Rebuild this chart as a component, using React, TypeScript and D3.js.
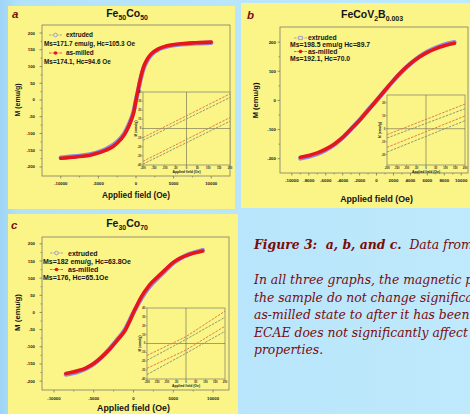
import React from "react";
import * as d3 from "d3";

// main loops: applied field (Oe) and magnetisation (emu/g)
const fieldA = [-10000, -8000, -6000, -4000, -3000, -2000, -1500, -1000, -600, -300, 0, 300, 600, 1000, 1500, 2000, 3000, 4000, 6000, 8000, 10000];
const milledA = [-174, -170, -164, -150, -138, -117, -102, -80, -58, -36, 0, 33, 65, 98, 122, 137, 153, 161, 168, 171, 173];
const extrudedA = [-172, -168, -162, -147, -134, -113, -98, -76, -54, -33, 0, 30, 61, 94, 118, 134, 151, 159, 166, 169, 171];

const fieldB = [-9000, -8000, -7000, -6000, -5000, -4000, -3000, -2000, -1000, 0, 1000, 2000, 3000, 4000, 5000, 6000, 7000, 8000, 9200];
const milledB = [-195, -189, -180, -167, -150, -127, -98, -68, -34, 0, 35, 69, 100, 126, 148, 165, 178, 188, 196];
const extrudedB = [-199, -193, -184, -170, -152, -128, -98, -67, -33, 0, 34, 68, 99, 126, 149, 167, 181, 192, 200];

const fieldC = [-8500, -7000, -6000, -5000, -4000, -3000, -2000, -1000, -500, 0, 500, 1000, 2000, 3000, 4000, 5000, 6000, 7000, 8700];
const milledC = [-178, -170, -162, -149, -130, -107, -80, -50, -26, 0, 24, 46, 80, 103, 125, 146, 160, 169, 179];
const extrudedC = [-181, -173, -164, -150, -130, -106, -78, -47, -24, 0, 21, 42, 75, 99, 122, 144, 159, 170, 182];

// insets: low field branches
const insetField = [-200, 0, 200];
const insetA1 = [-10, 14, 38];
const insetA2 = [-13, 10.5, 34];
const insetA3 = [-36, -12, 12];
const insetA4 = [-39, -15.5, 8];
const insetB1 = [-4.6, 7.2, 19];
const insetB2 = [-7.2, 4.1, 15.4];
const insetB3 = [-14.4, -2.3, 9.8];
const insetB4 = [-18, -5.9, 6.2];
const insetC1 = [-13.5, 7.7, 36.5];
const insetC2 = [-19, 4.7, 29.5];
const insetC3 = [-28, -7.3, 19.5];
const insetC4 = [-35, -11, 13.7];

// ticks
const xTicksA = [-10000, -5000, 0, 5000, 10000];
const yTicksA = [-200, -150, -100, -50, 0, 50, 100, 150, 200];
const xTicksB = [-10000, -8000, -6000, -4000, -2000, 0, 2000, 4000, 6000, 8000, 10000];
const yTicksB = [-200, -100, 0, 100, 200];
const insetXTicks = [-200, -150, -100, -50, 0, 50, 100, 150, 200];
const insetYTicksA = [-40, -30, -20, -10, 0, 10, 20, 30, 40];
const insetYTicksB = [-20, -10, 0, 10, 20];

// legends and titles
const legendA = ["extruded", "Ms=171.7 emu/g, Hc=105.3 Oe", "as-milled", "Ms=174.1, Hc=94.6 Oe"];
const legendB = ["extruded", "Ms=198.5 emu/g Hc=89.7", "as-milled", "Ms=192.1, Hc=70.0"];
const legendC = ["extruded", "Ms=182 emu/g, Hc=63.8Oe", "as-milled", "Ms=176, Hc=65.1Oe"];
const titleA: [string, boolean][] = [["Fe", false], ["50", true], ["Co", false], ["50", true]];
const titleB: [string, boolean][] = [["FeCoV", false], ["2", true], ["B", false], ["0.003", true]];
const titleC: [string, boolean][] = [["Fe", false], ["30", true], ["Co", false], ["70", true]];

const captionHead = "Figure 3: \u00a0a, b, and c.";
const captionTail = " \u00a0Data from the magnetometer";
const captionLines = [
  "In all three graphs, the magnetic properties of",
  "the sample do not change significantly from the",
  "as-milled state to after it has been extruded.",
  "ECAE does not significantly affect the magnetic",
  "properties.",
];

const SANS = "'Liberation Sans', Arial, sans-serif";
const YELLOW = "#fbf487";
const RED = "#e8161b";
const LAVENDER = "#8c8ce6";
const FRAME = "#8a8a72";
const DARKRED = "#7a0b0b";

const Title = ({ x, y, parts, size }: any) => (
  <text x={x} y={y} textAnchor="middle" fontFamily={SANS} fontWeight="bold" fontSize={size} fill="#151515">
    {parts.map(([t, sub]: [string, boolean], i: number) => {
      const prevSub = i > 0 && parts[i - 1][1];
      const dy = sub && !prevSub ? 2.6 : !sub && prevSub ? -2.6 : 0;
      return (
        <tspan key={i} dy={dy} fontSize={sub ? size * 0.66 : size}>
          {t}
        </tspan>
      );
    })}
  </text>
);

const Inset = ({ c }: any) => {
  const [x0, y0, x1, y1] = c.frame;
  const x = d3.scaleLinear().domain([-200, 200]).range([x0, x1]);
  const y = d3.scaleLinear().domain(c.yDomain).range([y1, y0]);
  const line = d3.line<[number, number]>().x((d) => x(d[0])).y((d) => y(d[1]));
  const colors = ["#e0703c", "#7f9070", "#e0703c", "#7f9070"];
  return (
    <g>
      <rect x={x0} y={y0} width={x1 - x0} height={y1 - y0} fill={YELLOW} stroke={FRAME} strokeWidth={0.8} />
      <line x1={x(0)} x2={x(0)} y1={y0} y2={y1} stroke="#666650" strokeWidth={0.6} />
      <line x1={x0} x2={x1} y1={y(0)} y2={y(0)} stroke="#666650" strokeWidth={0.6} />
      {insetXTicks.map((t) => (
        <g key={"x" + t}>
          <line x1={x(t)} x2={x(t)} y1={y1} y2={y1 + 1.3} stroke="#444" strokeWidth={0.4} />
          <text x={x(t)} y={y1 + 3.6} textAnchor="middle" fontFamily={SANS} fontWeight="bold" fontSize={2.6} fill="#222">
            {t}
          </text>
        </g>
      ))}
      {c.yTicks.map((t: number) => (
        <g key={"y" + t}>
          <line x1={x0 - 1.3} x2={x0} y1={y(t)} y2={y(t)} stroke="#444" strokeWidth={0.4} />
          <text x={x0 - 1.8} y={y(t) + 0.9} textAnchor="end" fontFamily={SANS} fontWeight="bold" fontSize={2.6} fill="#222">
            {t}
          </text>
        </g>
      ))}
      {c.lines.map((m: number[], i: number) => (
        <path
          key={i}
          d={line(d3.zip(insetField, m) as [number, number][]) || ""}
          fill="none"
          stroke={colors[i]}
          strokeWidth={0.9}
          strokeDasharray="2.5 1.2"
        />
      ))}
      <text x={(x0 + x1) / 2} y={y1 + 7.5} textAnchor="middle" fontFamily={SANS} fontWeight="bold" fontSize={3.4} fill="#222">
        Applied field (Oe)
      </text>
      <text
        transform={`translate(${x0 - 6},${(y0 + y1) / 2}) rotate(-90)`}
        textAnchor="middle"
        fontFamily={SANS}
        fontWeight="bold"
        fontSize={3.4}
        fill="#222"
      >
        M (emu/g)
      </text>
    </g>
  );
};

const LoopPanel = ({ p }: any) => {
  const [fx0, fy0, fx1, fy1] = p.frame;
  const x = d3.scaleLinear().domain(p.xDomain).range([fx0, fx1]);
  const y = d3.scaleLinear().domain(p.yDomain).range([fy1, fy0]);
  const line = d3
    .line<[number, number]>()
    .x((d) => x(d[0]))
    .y((d) => y(d[1]))
    .curve(d3.curveMonotoneX);
  const xMinor = d3.range(p.xTicks.length - 1).map((i: number) => (p.xTicks[i] + p.xTicks[i + 1]) / 2);
  const yMinor = d3.range(p.yTicks.length - 1).map((i: number) => (p.yTicks[i] + p.yTicks[i + 1]) / 2);
  const lg = p.legend;
  const rowY = lg.rows;
  return (
    <g>
      <rect x={p.box[0]} y={p.box[1]} width={p.box[2]} height={p.box[3]} fill={YELLOW} />
      <text x={p.letter[1]} y={p.letter[2]} fontFamily={SANS} fontWeight="bold" fontStyle="italic" fontSize={11.5} fill={DARKRED}>
        {p.letter[0]}
      </text>
      <Title x={p.titlePos[0]} y={p.titlePos[1]} parts={p.title} size={10.5} />
      <rect x={fx0} y={fy0} width={fx1 - fx0} height={fy1 - fy0} fill="none" stroke={FRAME} strokeWidth={0.9} />
      {p.xTicks.map((t: number) => (
        <g key={"x" + t}>
          <line x1={x(t)} x2={x(t)} y1={fy1} y2={fy1 + 2.5} stroke="#555" strokeWidth={0.6} />
          <text x={x(t)} y={p.xTickY} textAnchor="middle" fontFamily={SANS} fontWeight="bold" fontSize={p.tickSize} fill="#222">
            {String(t)}
          </text>
        </g>
      ))}
      {xMinor.map((t: number) => (
        <line key={"xm" + t} x1={x(t)} x2={x(t)} y1={fy1} y2={fy1 + 1.5} stroke="#555" strokeWidth={0.5} />
      ))}
      {p.yTicks.map((t: number) => (
        <g key={"y" + t}>
          <line x1={fx0 - 2.5} x2={fx0} y1={y(t)} y2={y(t)} stroke="#555" strokeWidth={0.6} />
          <text x={p.yTickX} y={y(t) + 1.5} textAnchor="end" fontFamily={SANS} fontWeight="bold" fontSize={p.tickSize} fill="#222">
            {String(t)}
          </text>
        </g>
      ))}
      {yMinor.map((t: number) => (
        <line key={"ym" + t} x1={fx0 - 1.5} x2={fx0} y1={y(t)} y2={y(t)} stroke="#555" strokeWidth={0.5} />
      ))}
      <text x={x(0)} y={p.xTitleY} textAnchor="middle" fontFamily={SANS} fontWeight="bold" fontSize={p.xTitleSize} fill="#151515">
        Applied field (Oe)
      </text>
      <text
        transform={`translate(${p.yTitleX},${y(0)}) rotate(-90)`}
        textAnchor="middle"
        fontFamily={SANS}
        fontWeight="bold"
        fontSize={p.yTitleSize}
        fill="#151515"
      >
        M (emu/g)
      </text>
      <path d={line(d3.zip(p.field, p.extruded) as [number, number][]) || ""} fill="none" stroke={LAVENDER} strokeWidth={4.4} strokeLinecap="round" />
      <path d={line(d3.zip(p.field, p.milled) as [number, number][]) || ""} fill="none" stroke={RED} strokeWidth={3.6} strokeLinecap="round" />
      <g fontFamily={SANS} fontWeight="bold" fontSize={lg.size} fill="#151515">
        <line x1={lg.sx} x2={lg.sx + 13} y1={rowY[0]} y2={rowY[0]} stroke="#8a8a8a" strokeWidth={0.7} strokeDasharray="2.5 1" />
        {p.marker === "square" ? (
          <rect x={lg.sx + 4.8} y={rowY[0] - 1.7} width={3.4} height={3.4} fill={YELLOW} stroke={LAVENDER} strokeWidth={0.8} />
        ) : (
          <circle cx={lg.sx + 6.5} cy={rowY[0]} r={1.8} fill={YELLOW} stroke={LAVENDER} strokeWidth={0.8} />
        )}
        <text x={lg.lx} y={rowY[0] + lg.size * 0.36}>{p.legendText[0]}</text>
        <text x={lg.tx} y={rowY[1] + lg.size * 0.36}>{p.legendText[1]}</text>
        <line x1={lg.sx} x2={lg.sx + 13} y1={rowY[2]} y2={rowY[2]} stroke={RED} strokeWidth={0.7} strokeDasharray="2.5 1" />
        <circle cx={lg.sx + 6.5} cy={rowY[2]} r={1.8} fill={RED} />
        <text x={lg.lx} y={rowY[2] + lg.size * 0.36}>{p.legendText[2]}</text>
        <text x={lg.tx} y={rowY[3] + lg.size * 0.36}>{p.legendText[3]}</text>
      </g>
      <Inset c={p.inset} />
    </g>
  );
};

const panels = [
  {
    box: [8, 6, 227, 203],
    frame: [42, 25, 230, 176],
    xDomain: [-12500, 12500],
    yDomain: [-227, 224],
    xTicks: xTicksA,
    yTicks: yTicksA,
    field: fieldA,
    milled: milledA,
    extruded: extrudedA,
    letter: ["a", 12, 18],
    title: titleA,
    titlePos: [127, 17],
    xTickY: 184.5,
    yTickX: 35,
    tickSize: 4.3,
    xTitleY: 198,
    xTitleSize: 8.2,
    yTitleX: 20,
    yTitleSize: 7,
    marker: "circle",
    legendText: legendA,
    legend: { sx: 49, lx: 66, tx: 44, rows: [35, 44, 53, 62], size: 6.4 },
    inset: { frame: [143, 92, 230, 165], yDomain: [-40, 40], yTicks: insetYTicksA, lines: [insetA1, insetA2, insetA3, insetA4] },
  },
  {
    box: [241, 3, 229, 205],
    frame: [280, 27, 468, 173],
    xDomain: [-11400, 10800],
    yDomain: [-249, 252],
    xTicks: xTicksB,
    yTicks: yTicksB,
    field: fieldB,
    milled: milledB,
    extruded: extrudedB,
    letter: ["b", 247, 19],
    title: titleB,
    titlePos: [372, 18],
    xTickY: 181.5,
    yTickX: 276,
    tickSize: 4.4,
    xTitleY: 202,
    xTitleSize: 8.8,
    yTitleX: 258,
    yTitleSize: 7.6,
    marker: "square",
    legendText: legendB,
    legend: { sx: 294, lx: 308, tx: 290, rows: [38, 45, 51.5, 59], size: 6.8 },
    inset: { frame: [387, 95, 465, 165], yDomain: [-28, 26], yTicks: insetYTicksB, lines: [insetB1, insetB2, insetB3, insetB4] },
  },
  {
    box: [8, 214, 230, 200],
    frame: [42, 237, 229, 390],
    xDomain: [-11500, 12000],
    yDomain: [-226, 220],
    xTicks: xTicksA,
    yTicks: yTicksA,
    field: fieldC,
    milled: milledC,
    extruded: extrudedC,
    letter: ["c", 11, 229],
    title: titleC,
    titlePos: [127, 227],
    xTickY: 399.5,
    yTickX: 35,
    tickSize: 4.3,
    xTitleY: 411,
    xTitleSize: 8.8,
    yTitleX: 20,
    yTitleSize: 7.8,
    marker: "circle",
    legendText: legendC,
    legend: { sx: 50, lx: 68, tx: 43, rows: [253, 261.5, 269.5, 277.5], size: 7 },
    inset: { frame: [147, 308, 225, 379], yDomain: [-40, 40], yTicks: insetYTicksA, lines: [insetC1, insetC2, insetC3, insetC4] },
  },
];

export default function App() {
  return (
    <svg width={470} height={414} style={{ position: "absolute", left: 0, top: 0, display: "block" }}>
      <defs>
        <linearGradient id="bg" x1="0" x2="1" y1="0" y2="0">
          <stop offset="0" stopColor="#9fd4f6" />
          <stop offset="0.04" stopColor="#b2e2fa" />
          <stop offset="1" stopColor="#bfe9fc" />
        </linearGradient>
      </defs>
      <rect x={0} y={0} width={470} height={414} fill="url(#bg)" />
      {panels.map((p, i) => (
        <LoopPanel key={i} p={p} />
      ))}
      <g fontFamily="'DejaVu Serif', serif" fontSize={12.4} fill={DARKRED} fontStyle="italic">
        <text x={254} y={249}>
          <tspan fontWeight="bold">{captionHead}</tspan>
          <tspan>{captionTail}</tspan>
        </text>
        {captionLines.map((l, i) => (
          <text key={i} x={254} y={284 + i * 17.5}>
            {l}
          </text>
        ))}
      </g>
    </svg>
  );
}
